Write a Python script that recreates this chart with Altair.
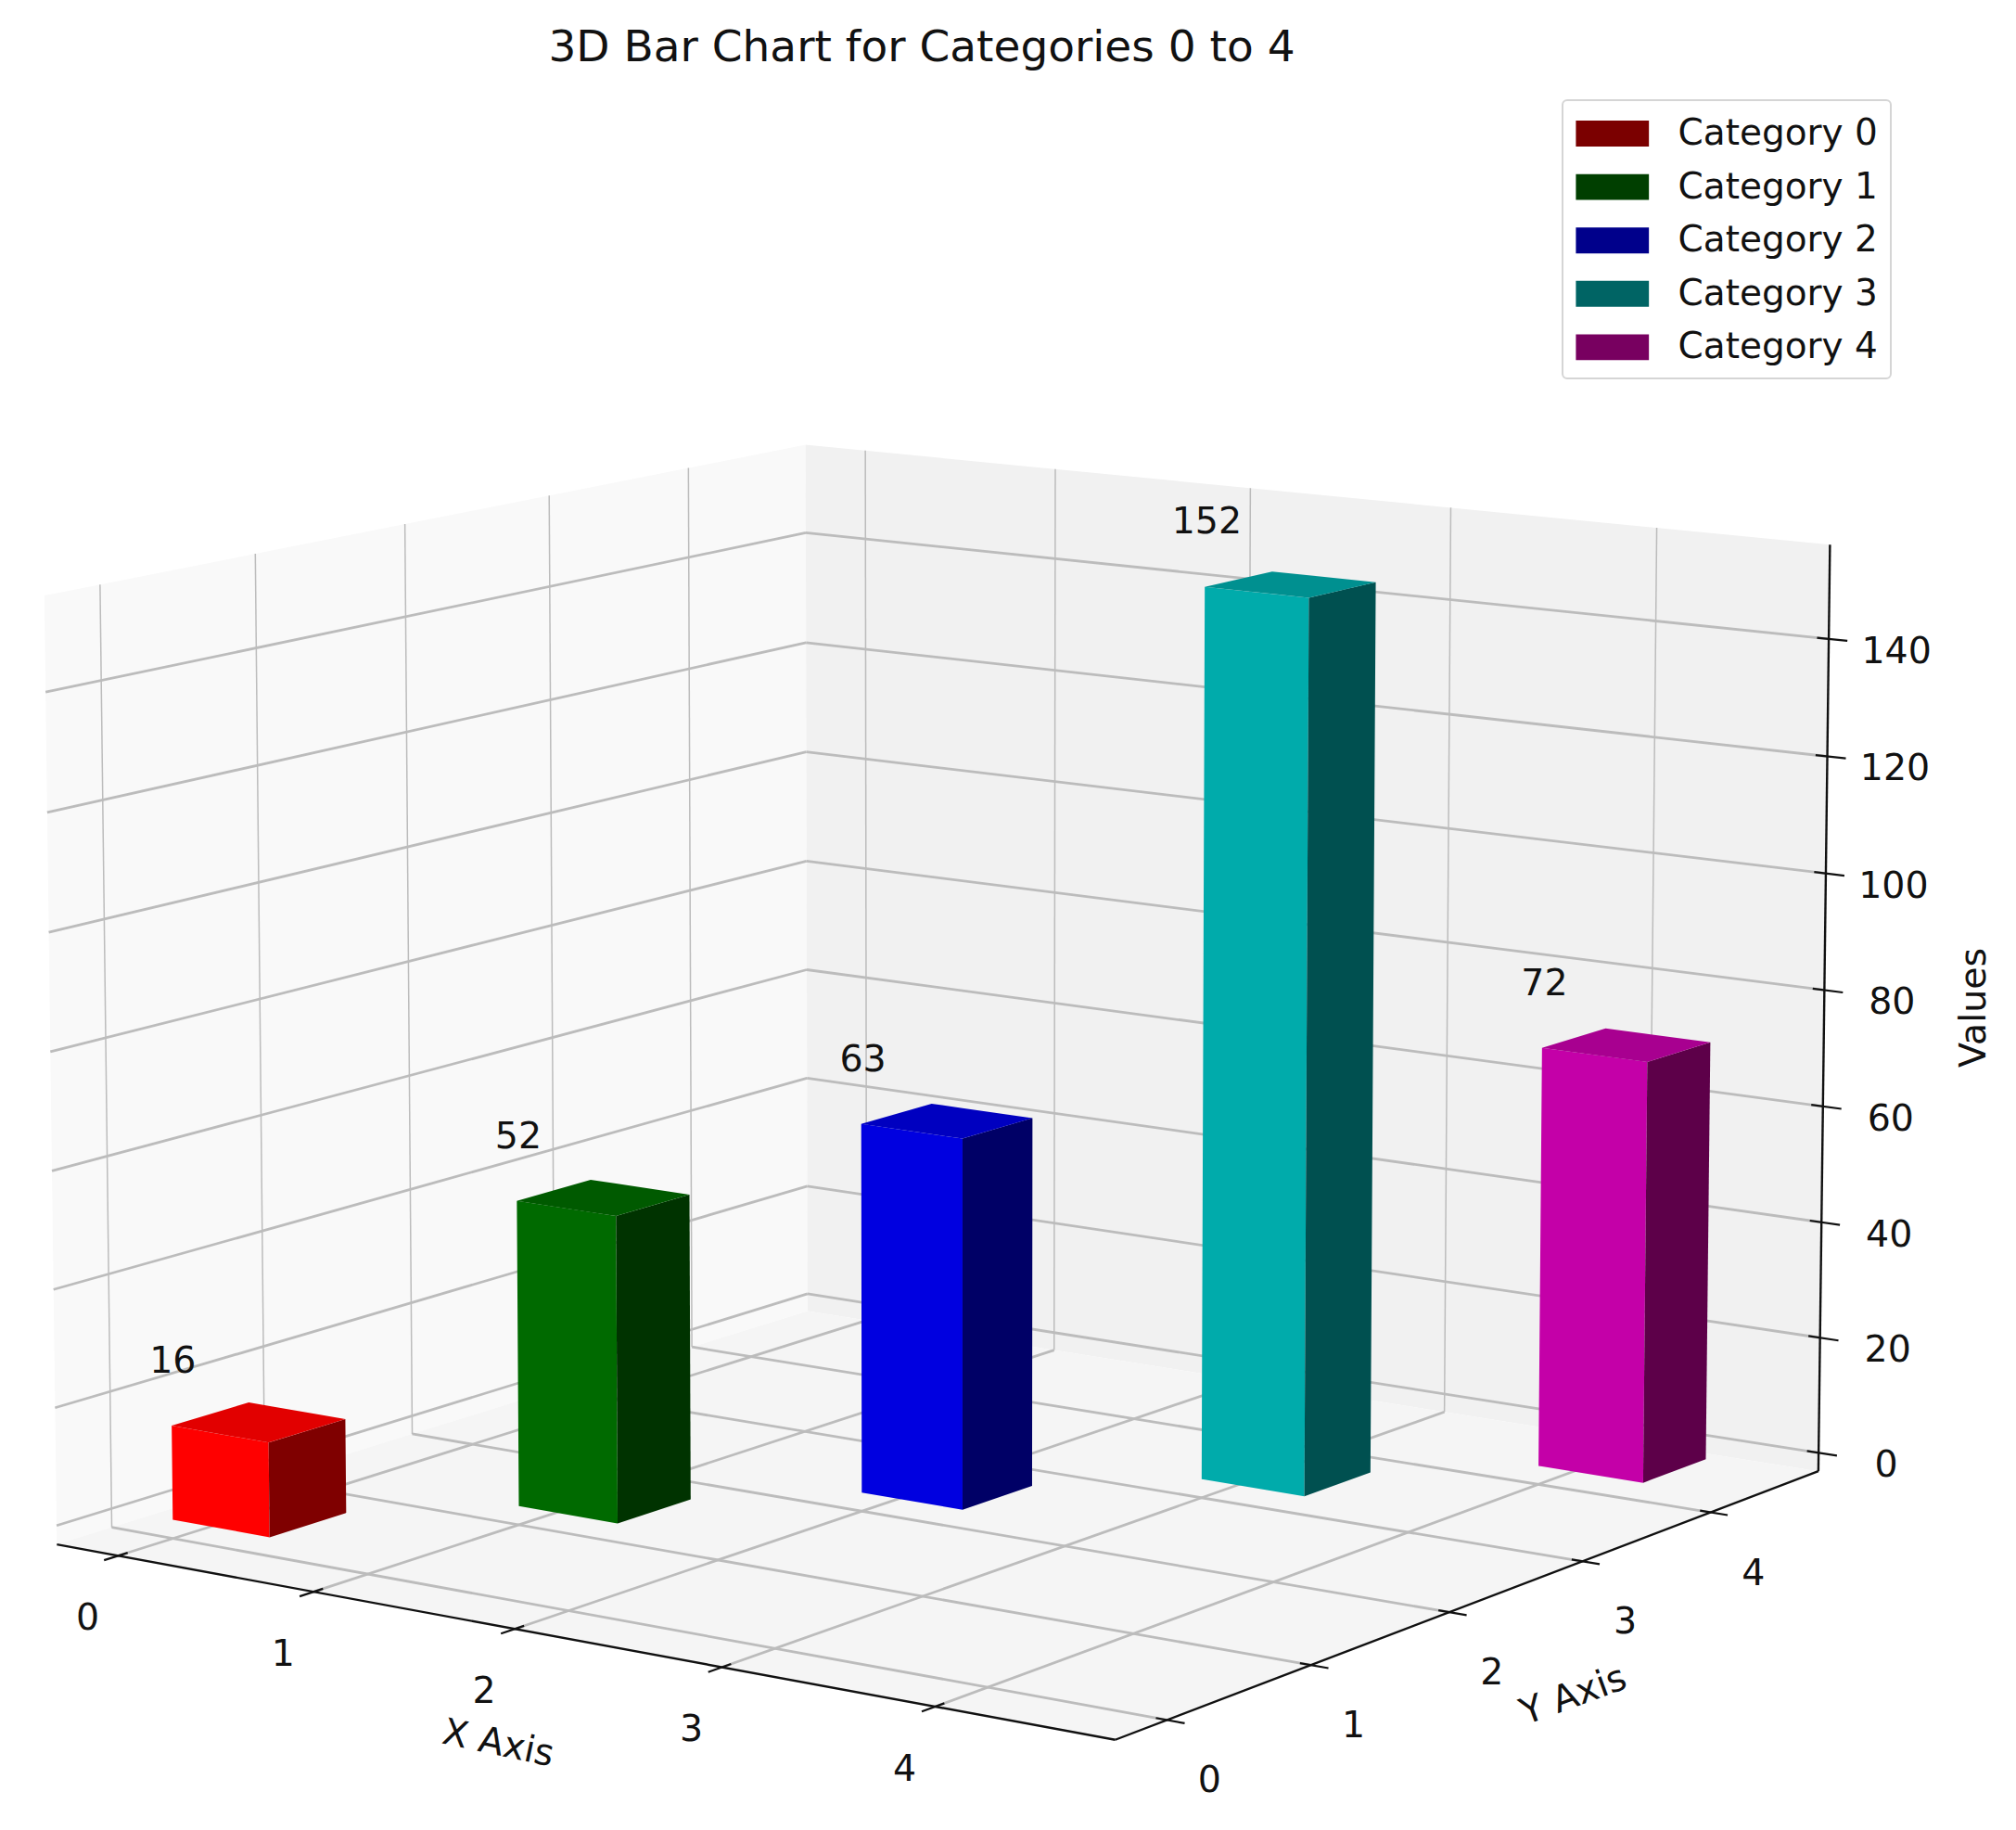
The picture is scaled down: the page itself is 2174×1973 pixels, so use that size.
import altair as alt
import numpy as np
import pandas as pd

# ---- chart values ----
categories = ["Category 0", "Category 1", "Category 2", "Category 3", "Category 4"]
values = [16, 52, 63, 152, 72]
front_colors = ["#ff0000", "#006a00", "#0000e0", "#00abab", "#c400a8"]
side_colors = ["#7f0000", "#003300", "#000066", "#005050", "#5d0049"]
top_colors = ["#e20000", "#005a00", "#0000c0", "#009090", "#a80090"]
legend_colors = ["#7b0000", "#003f00", "#00008b", "#006464", "#780060"]
ticks_xy = [0, 1, 2, 3, 4]
ticks_z = [0, 20, 40, 60, 80, 100, 120, 140]
XMIN, XMAX, YMIN, YMAX, ZMIN, ZMAX = -0.32, 4.82, -0.35, 4.87, -3.2, 156.0
BAR_WIDTH = 0.5

# ---- perspective camera: 3D data space -> page pixels ----
CAM = [204.627, 171.079, -2.67242, 186.308,
       14.3653, -21.7091, -194.087, 1638.48,
       -0.0141549, 0.0186832, -0.00257465]


def project(x, y, z):
    z = z / 30
    d = CAM[8] * x + CAM[9] * y + CAM[10] * z + 1
    return (CAM[0] * x + CAM[1] * y + CAM[2] * z + CAM[3]) / d, (CAM[4] * x + CAM[5] * y + CAM[6] * z + CAM[7]) / d


SX = alt.Scale(domain=[8, 2166], nice=False, zero=False)
SY = alt.Scale(domain=[1965, 88], nice=False, zero=False)
X = alt.X("px:Q", scale=SX, axis=None)
Y = alt.Y("py:Q", scale=SY, axis=None)


def face(corners, color):
    p = [project(*c) for c in corners]
    rows = []
    n = len(p)
    for x in sorted({q[0] for q in p}):
        ys = []
        for k in range(n):
            a, b = p[k], p[(k + 1) % n]
            if min(a[0], b[0]) <= x <= max(a[0], b[0]):
                if a[0] == b[0]:
                    ys += [a[1], b[1]]
                else:
                    ys.append(a[1] + (b[1] - a[1]) * (x - a[0]) / (b[0] - a[0]))
        rows.append({"px": x, "py": min(ys), "py2": max(ys)})
    return alt.Chart(pd.DataFrame(rows)).mark_area(color=color, interpolate="linear").encode(x=X, y=Y, y2="py2:Q")


def segs(lines, color, width):
    rows = []
    for a, b in lines:
        pa, pb = project(*a), project(*b)
        rows.append({"px": pa[0], "py": pa[1], "px2": pb[0], "py2": pb[1]})
    return alt.Chart(pd.DataFrame(rows)).mark_rule(color=color, strokeWidth=width).encode(x=X, y=Y, x2="px2:Q", y2="py2:Q")


def labels(rows, sx, sy, size=39.5, angle=0):
    df = pd.DataFrame([{"px": project(*p)[0], "py": project(*p)[1], "t": t} for p, t in rows])
    th = np.radians(angle)
    dx = sx * np.cos(th) + sy * np.sin(th)
    dy = -sx * np.sin(th) + sy * np.cos(th)
    return alt.Chart(df).mark_text(font="DejaVu Sans", fontSize=size, color="#111111", dx=float(dx), dy=float(dy),
                                   angle=angle, baseline="middle", align="center").encode(x=X, y=Y, text="t:N")


layers = [
    face([(XMIN, YMIN, ZMIN), (XMIN, YMAX, ZMIN), (XMIN, YMAX, ZMAX), (XMIN, YMIN, ZMAX)], "#f9f9f9"),
    face([(XMIN, YMAX, ZMIN), (XMAX, YMAX, ZMIN), (XMAX, YMAX, ZMAX), (XMIN, YMAX, ZMAX)], "#f1f1f1"),
    face([(XMIN, YMIN, ZMIN), (XMAX, YMIN, ZMIN), (XMAX, YMAX, ZMIN), (XMIN, YMAX, ZMIN)], "#f5f5f5"),
]
vert = [((XMIN, t, ZMIN), (XMIN, t, ZMAX)) for t in ticks_xy] + [((t, YMAX, ZMIN), (t, YMAX, ZMAX)) for t in ticks_xy]
slope = [((t, YMIN, ZMIN), (t, YMAX, ZMIN)) for t in ticks_xy] + [((XMIN, t, ZMIN), (XMAX, t, ZMIN)) for t in ticks_xy]
slope += [((XMIN, YMIN, t), (XMIN, YMAX, t)) for t in ticks_z] + [((XMIN, YMAX, t), (XMAX, YMAX, t)) for t in ticks_z]
layers += [segs(vert, "#bcbcbc", 1.5), segs(slope, "#bcbcbc", 2.8)]
axes = [((XMIN, YMIN, ZMIN), (XMAX, YMIN, ZMIN)), ((XMAX, YMIN, ZMIN), (XMAX, YMAX, ZMIN)), ((XMAX, YMAX, ZMIN), (XMAX, YMAX, ZMAX))]
tk = [((t, YMIN - 0.09, ZMIN), (t, YMIN + 0.06, ZMIN)) for t in ticks_xy]
tk += [((XMAX - 0.05, t, ZMIN), (XMAX + 0.08, t, ZMIN)) for t in ticks_xy]
tk += [((XMAX - 0.055, YMAX, t), (XMAX + 0.087, YMAX, t)) for t in ticks_z]
layers += [segs(axes, "#111111", 2.4), segs(tk, "#111111", 2.2)]
for i, v in enumerate(values):
    a, b = i, i + BAR_WIDTH
    layers.append(face([(a, a, 0), (b, a, 0), (b, a, v), (a, a, v)], front_colors[i]))
    layers.append(face([(b, a, 0), (b, b, 0), (b, b, v), (b, a, v)], side_colors[i]))
    layers.append(face([(a, a, v), (b, a, v), (b, b, v), (a, b, v)], top_colors[i]))
layers.append(labels([((t, YMIN, ZMIN), str(t)) for t in ticks_xy], -33, 68))
layers.append(labels([((XMAX, t, ZMIN), str(t)) for t in ticks_xy], 46, 66))
layers.append(labels([((XMAX, YMAX, t), str(t)) for t in ticks_z], 73, 14))
layers.append(labels([((i, i, v + 11), str(v)) for i, v in enumerate(values)], 2, 1))
layers.append(labels([((2, YMIN, ZMIN), "X Axis")], -18, 124, angle=12))
layers.append(labels([((XMAX, 2, ZMIN), "Y Axis")], 134, 90, angle=340))
layers.append(labels([((XMAX, YMAX, 80), "Values")], 162, 19, angle=270))

anchor = project(0, 0, 0)
legdf = pd.DataFrame({"px": [anchor[0]] * 5, "py": [anchor[1]] * 5, "category": categories})
layers.append(alt.Chart(legdf).mark_point(filled=True, size=0, opacity=1).encode(
    x=X, y=Y,
    color=alt.Color("category:N", scale=alt.Scale(domain=categories, range=legend_colors), legend=alt.Legend(
        title=None, orient="none", legendX=1677, legendY=20, padding=13.5, fillColor="white", strokeColor="#d5d5d5",
        cornerRadius=5, symbolType="M-0.96,-0.62 H2.54 V0.62 H-0.96 Z", symbolSize=2025, symbolOpacity=1,
        symbolStrokeWidth=0, labelFont="DejaVu Sans", labelFontSize=39, labelColor="#111111", labelOffset=66,
        rowPadding=14.6, labelLimit=400))))

chart = alt.layer(*layers).properties(
    width=2158, height=1877,
    padding={"left": 0, "right": 0, "top": 80, "bottom": 0},
    autosize=alt.AutoSizeParams(type="none"),
    title=alt.TitleParams("3D Bar Chart for Categories 0 to 4", font="DejaVu Sans", fontSize=47, fontWeight="normal",
                          color="#111111", anchor="middle", dx=-93, offset=12),
).configure_view(stroke=None).configure_legend(strokeWidth=2)
chart.save("out.html", embed_options={"renderer": "svg", "actions": False})
